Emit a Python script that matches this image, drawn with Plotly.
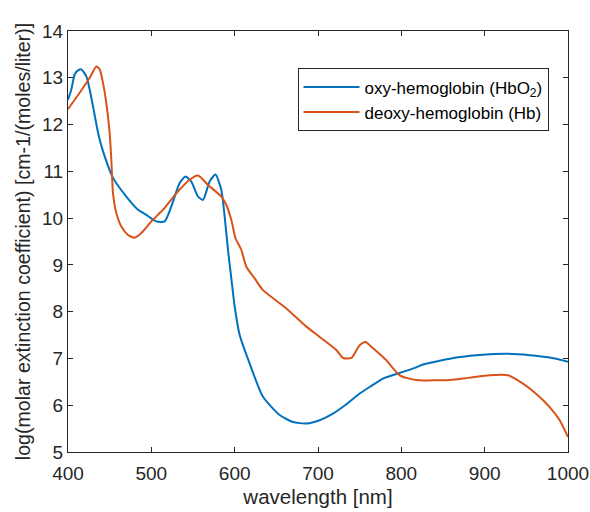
import plotly.graph_objects as go

oxy_nm = [400, 404, 408, 412, 416, 422, 426, 430, 437, 444, 454, 470, 484, 494, 506, 516, 524, 534, 541, 548, 556, 562, 570, 577, 584, 588, 592, 596, 600, 606, 618, 634, 654, 670, 686, 702, 718, 734, 750, 762, 778, 798, 818, 826, 846, 866, 890, 906, 926, 954, 978, 1000]
oxy_val = [12.53, 12.75, 13.07, 13.16, 13.18, 13.03, 12.75, 12.39, 11.75, 11.32, 10.86, 10.46, 10.18, 10.07, 9.93, 9.93, 10.25, 10.75, 10.89, 10.78, 10.46, 10.39, 10.78, 10.93, 10.6, 10.03, 9.32, 8.71, 8.11, 7.5, 6.89, 6.18, 5.79, 5.64, 5.61, 5.68, 5.82, 6.02, 6.25, 6.39, 6.57, 6.69, 6.81, 6.87, 6.95, 7.02, 7.07, 7.09, 7.10, 7.07, 7.02, 6.93]

deoxy_nm = [400, 414, 426, 434, 438, 442, 446, 450, 452, 454, 458, 464, 472, 480, 488, 500, 514, 530, 546, 556, 568, 584, 590, 596, 601, 608, 614, 624, 634, 662, 686, 702, 722, 730, 740, 750, 757, 764, 782, 798, 818, 858, 882, 906, 928, 946, 964, 978, 990, 1000]
deoxy_val = [12.33, 12.68, 13.0, 13.24, 13.18, 12.89, 12.46, 11.82, 11.25, 10.53, 10.11, 9.82, 9.64, 9.58, 9.68, 9.93, 10.18, 10.53, 10.82, 10.91, 10.71, 10.46, 10.28, 9.96, 9.57, 9.32, 8.96, 8.71, 8.46, 8.07, 7.68, 7.46, 7.18, 7.01, 7.01, 7.28, 7.35, 7.25, 6.96, 6.64, 6.54, 6.54, 6.59, 6.64, 6.64, 6.46, 6.21, 5.96, 5.68, 5.32]

x_ticks = [400, 500, 600, 700, 800, 900, 1000]
y_ticks = [5, 6, 7, 8, 9, 10, 11, 12, 13, 14]

FONT = "Liberation Sans, Arial, sans-serif"
AX = "#262626"

fig = go.Figure()
fig.add_trace(go.Scatter(x=oxy_nm, y=oxy_val, mode="lines", name="oxy-hemoglobin (HbO<sub>2</sub>)",
                         line=dict(color="#0072BD", width=2, shape="spline", smoothing=0.6)))
fig.add_trace(go.Scatter(x=deoxy_nm, y=deoxy_val, mode="lines", name="deoxy-hemoglobin (Hb)",
                         line=dict(color="#D95319", width=2, shape="spline", smoothing=0.6)))

axis_common = dict(showgrid=False, zeroline=False, showline=True, linecolor=AX, linewidth=1,
                   mirror="ticks", ticks="inside", ticklen=5, tickcolor=AX, tickwidth=1,
                   automargin=False,
                   tickfont=dict(family=FONT, size=19, color=AX))
fig.update_xaxes(range=[400, 1000], tickvals=x_ticks, ticktext=[str(v) for v in x_ticks],
                 ticklabelstandoff=4,
                 title=dict(text="wavelength [nm]", font=dict(family=FONT, size=20.5, color=AX), standoff=6),
                 **axis_common)
fig.update_yaxes(range=[5, 14], tickvals=y_ticks, ticktext=[str(v) for v in y_ticks],
                 title=dict(text="log(molar extinction coefficient) [cm-1/(moles/liter)]",
                            font=dict(family=FONT, size=19.6, color=AX), standoff=6),
                 **axis_common)

fig.update_layout(
    width=590, height=512,
    margin=dict(l=68, r=22, t=31, b=60),
    paper_bgcolor="white", plot_bgcolor="white",
    font=dict(family=FONT, color=AX),
    legend=dict(x=0.459, y=0.911, xanchor="left", yanchor="top",
                bgcolor="white", bordercolor=AX, borderwidth=1,
                font=dict(family=FONT, size=17, color="black"),
                itemwidth=56, tracegroupgap=0),
    showlegend=True,
)

fig.write_html("out.html")
